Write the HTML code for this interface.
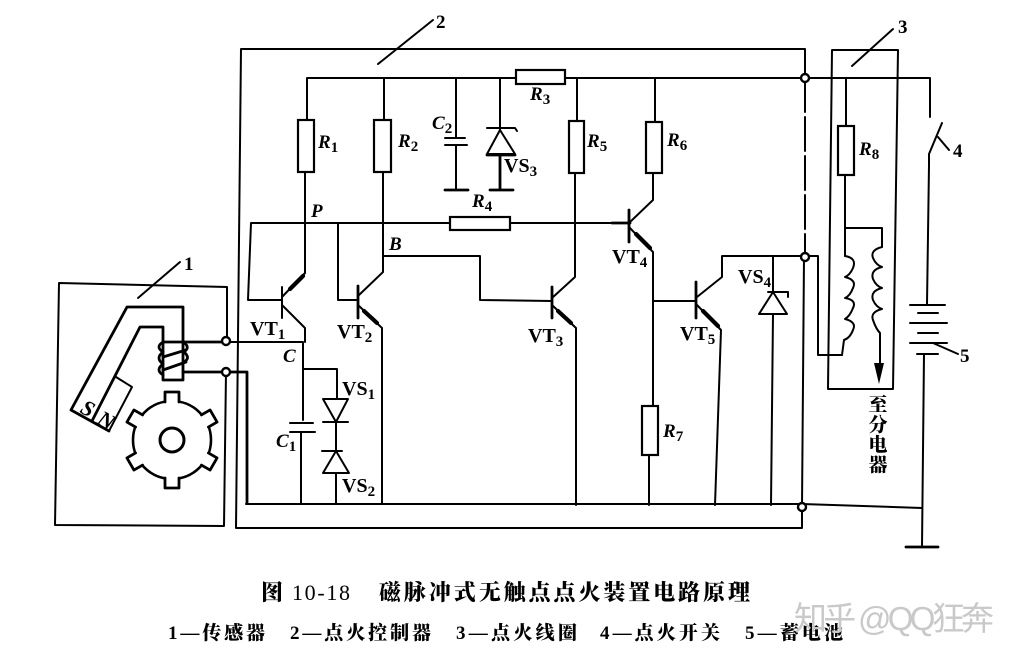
<!DOCTYPE html>
<html><head><meta charset="utf-8"><style>
html,body{margin:0;padding:0;background:#fff}
svg{display:block}
.w{fill:none;stroke:#000;stroke-width:2;stroke-linejoin:round;stroke-linecap:round}
.t{stroke-width:2.8}
.a{fill:none;stroke:#000;stroke-width:4.2;stroke-linecap:round}
.r{fill:#fff;stroke:#000;stroke-width:2.2}
.o{fill:#fff;stroke:#000;stroke-width:2.4}
text{fill:#000}
.l{font:bold 20px "Liberation Serif",serif}
.i{font:italic bold 19px "Liberation Serif",serif}
.n{font:bold 19px "Liberation Serif",serif}
.s{font-size:15px;font-style:normal}
.c{font-family:"Liberation Serif","Noto Serif CJK SC",serif;font-weight:900}
</style></head><body>
<svg width="1018" height="662" viewBox="0 0 1018 662" xmlns="http://www.w3.org/2000/svg">
<rect width="1018" height="662" fill="#fff"/>
<!-- box 1 -->
<path class="w" d="M227 341V287L59 283L55 525L224 526L226 372"/>
<path class="w" d="M180 262L138 298" stroke-width="1.6"/>
<!-- magnet -->
<path class="w t" d="M109 431L71 410L127 307H183V380H163V327H140L92 421"/>
<path class="w" d="M116 377L132 387L109 431"/>
<path class="w t" d="M163 342H226M163 357L186 350M163 370L186 362M183 372H247V503"/>
<path class="w t" d="M163 342Q155 347 163 352Q155 358 163 364Q155 370 163 375M183 342Q191 347 184 352Q191 358 184 362"/>
<text class="i" transform="translate(79 412) rotate(28)" style="font-size:22px">S</text>
<text class="i" transform="translate(96 423) rotate(28)" style="font-size:22px">N</text>
<!-- gear -->
<g transform="translate(172 440)">
<circle r="39" fill="#fff" stroke="#000" stroke-width="2.6"/>
<g><rect x="-6.5" y="-42" width="13" height="6" fill="#fff"/><path class="w t" d="M-7 -38V-48H7V-38"/></g>
<g transform="rotate(60)"><rect x="-6.5" y="-42" width="13" height="6" fill="#fff"/><path class="w t" d="M-7 -38V-48H7V-38"/></g>
<g transform="rotate(120)"><rect x="-6.5" y="-42" width="13" height="6" fill="#fff"/><path class="w t" d="M-7 -38V-48H7V-38"/></g>
<g transform="rotate(180)"><rect x="-6.5" y="-42" width="13" height="6" fill="#fff"/><path class="w t" d="M-7 -38V-48H7V-38"/></g>
<g transform="rotate(240)"><rect x="-6.5" y="-42" width="13" height="6" fill="#fff"/><path class="w t" d="M-7 -38V-48H7V-38"/></g>
<g transform="rotate(300)"><rect x="-6.5" y="-42" width="13" height="6" fill="#fff"/><path class="w t" d="M-7 -38V-48H7V-38"/></g>
<circle r="12" fill="#fff" stroke="#000" stroke-width="3"/>
</g>
<!-- box 2 -->
<path class="w" d="M805 78V49H241L236 528H802V507"/>
<path class="w" d="M805 78V257" stroke-dasharray="34 5"/>
<path class="w" d="M804 257L802 507"/>
<path class="w" d="M433 20L378 64" stroke-width="1.6"/>
<!-- buses -->
<path class="w" d="M305 273V172M307 120V78H516M565 78H930V117"/>
<path class="w" d="M246 504H802L922 508"/>
<!-- VT1 -->
<path class="w" d="M282 287V318M248 300H282M248 300L251 223H450M510 223H630"/>
<path class="w" d="M282 297L305 273M282 305L305 328V342M226 342H303V420"/>
<path class="a" d="M290 289L303 276"/>
<!-- VT2 -->
<path class="w t" d="M358 286V318"/>
<path class="w" d="M338 300H358M338 300V223M384 78V120M383 172V272L359 295M358 305L382 328V504"/>
<path class="a" d="M364 311L377 323"/>
<!-- R boxes -->
<rect class="r" x="298" y="120" width="16" height="52"/>
<rect class="r" x="374" y="120" width="17" height="52"/>
<rect class="r" x="516" y="70" width="49" height="14"/>
<rect class="r" x="450" y="217" width="60" height="13"/>
<rect class="r" x="569" y="121" width="15" height="52"/>
<rect class="r" x="646" y="122" width="16" height="51"/>
<rect class="r" x="642" y="406" width="16" height="49"/>
<rect class="r" x="838" y="126" width="16" height="49"/>
<!-- C, VS1, VS2 -->
<path class="w" d="M304 369H337V399M336 422V451M336 473V504"/>
<path class="w" d="M290 423H313M290 432H315M301 432V504"/>
<path class="w" d="M323 399H348L336 422ZM323 422H348"/>
<path class="w" d="M336 451L323 473H349ZM322 451H342"/>
<!-- B and VT3 -->
<path class="w" d="M383 256H480V300L552 301"/>
<path class="w t" d="M552 287V318"/>
<path class="w" d="M577 78V121M575 173V277L552 298M552 305L576 328V505"/>
<path class="a" d="M558 311L571 323"/>
<!-- C2 -->
<path class="w" d="M456 78V138M445 138H465M445 145H467M456 145V190"/>
<path class="w t" d="M445 190H468"/>
<!-- VS3 -->
<path class="w" d="M500 78V130"/>
<path class="w" d="M487 128H515L517 131M500 130L487 154H515Z"/>
<path class="w t" d="M487 155H515M500 155V190M490 190H513"/>
<!-- VT4 -->
<path class="w t" d="M629 210V242"/>
<path class="w" d="M655 78V122M653 173V200L630 222M629 227L653 252V406M649 455V505"/>
<path class="a" d="M636 234L650 248"/>
<path class="w t" d="M612 223H630"/>
<!-- VT5 -->
<path class="w t" d="M696 282V318"/>
<path class="w" d="M653 301H696M697 297L722 277V256H818V355H842"/>
<path class="w" d="M697 305L721 330L715 505"/>
<path class="a" d="M703 311L718 326"/>
<!-- VS4 -->
<path class="w" d="M773 257V292M773 292L759 314H787ZM768 292H788V297M773 314L771 505"/>
<!-- box 3 -->
<path class="w" d="M832 50L828 389H893L898 50H832Z"/>
<path class="w" d="M893 29L852 66" stroke-width="1.6"/>
<!-- coils -->
<path class="w" d="M846 78V126M845 175V256M845 228H882V247"/>
<path class="w" d="M845 256Q857 258 853 268Q850 275 845 277Q857 280 853 288Q850 296 845 298Q857 300 853 308Q850 316 845 319Q857 322 853 330Q850 338 844 340L842 355"/>
<path class="w" d="M882 247Q870 250 873 258Q876 265 882 267Q870 270 873 279Q876 286 882 288Q870 291 873 300Q876 307 882 309Q870 312 873 320Q876 329 880 333V365"/>
<path d="M874 363H884L879 384Z" fill="#000"/>
<text class="c" font-size="19" x="878" y="411" text-anchor="middle">至</text>
<text class="c" font-size="19" x="878" y="431" text-anchor="middle">分</text>
<text class="c" font-size="19" x="878" y="451" text-anchor="middle">电</text>
<text class="c" font-size="19" x="878" y="471" text-anchor="middle">器</text>
<!-- switch + battery -->
<path class="w" d="M942 123L929 154V165L927 304"/>
<path class="w" d="M938 137L949 150" stroke-width="1.8"/>
<path class="w" d="M910 305H945M918 313H938M910 323H947M918 333H938M910 343H947M917 354H938"/>
<path class="w" d="M924 354L922 547"/>
<path class="w" d="M933 343L958 354" stroke-width="1.5"/>
<path class="w t" d="M906 547H938"/>
<!-- terminals -->
<circle class="o" cx="226" cy="341" r="4"/>
<circle class="o" cx="226" cy="372" r="4"/>
<circle class="o" cx="805" cy="78" r="4"/>
<circle class="o" cx="805" cy="257" r="4"/>
<circle class="o" cx="802" cy="507" r="4"/>
<!-- labels -->
<text class="n" x="184" y="270">1</text>
<text class="n" x="436" y="28">2</text>
<text class="n" x="898" y="33">3</text>
<text class="n" x="953" y="157">4</text>
<text class="n" x="960" y="362">5</text>
<text class="l" x="250" y="335">VT<tspan class="s" dy="4">1</tspan></text>
<text class="l" x="337" y="338">VT<tspan class="s" dy="4">2</tspan></text>
<text class="l" x="528" y="342">VT<tspan class="s" dy="4">3</tspan></text>
<text class="l" x="612" y="263">VT<tspan class="s" dy="4">4</tspan></text>
<text class="l" x="680" y="340">VT<tspan class="s" dy="4">5</tspan></text>
<text class="l" x="738" y="283">VS<tspan class="s" dy="4">4</tspan></text>
<text class="l" x="342" y="395">VS<tspan class="s" dy="4">1</tspan></text>
<text class="l" x="342" y="492">VS<tspan class="s" dy="4">2</tspan></text>
<text class="l" x="504" y="172">VS<tspan class="s" dy="4">3</tspan></text>
<text class="i" x="283" y="362">C</text>
<text class="i" x="276" y="447">C<tspan class="s" dy="4">1</tspan></text>
<text class="i" x="432" y="129">C<tspan class="s" dy="4">2</tspan></text>
<text class="i" x="318" y="148">R<tspan class="s" dy="4">1</tspan></text>
<text class="i" x="398" y="147">R<tspan class="s" dy="4">2</tspan></text>
<text class="i" x="530" y="100">R<tspan class="s" dy="4">3</tspan></text>
<text class="i" x="472" y="207">R<tspan class="s" dy="4">4</tspan></text>
<text class="i" x="587" y="147">R<tspan class="s" dy="4">5</tspan></text>
<text class="i" x="667" y="146">R<tspan class="s" dy="4">6</tspan></text>
<text class="i" x="663" y="437">R<tspan class="s" dy="4">7</tspan></text>
<text class="i" x="859" y="155">R<tspan class="s" dy="4">8</tspan></text>
<text class="i" x="311" y="217">P</text>
<text class="i" x="389" y="250">B</text>
<!-- captions -->
<g class="c" font-size="22">
<text x="261" y="600">图</text>
<text x="292" y="600" textLength="58" lengthAdjust="spacing" style="font-weight:normal">10-18</text>
<text x="379" y="600" textLength="371" lengthAdjust="spacing">磁脉冲式无触点点火装置电路原理</text>
</g>
<g class="c" font-size="19">
<text x="168" y="639" textLength="97" lengthAdjust="spacing">1—传感器</text>
<text x="290" y="639" textLength="141" lengthAdjust="spacing">2—点火控制器</text>
<text x="456" y="639" textLength="121" lengthAdjust="spacing">3—点火线圈</text>
<text x="600" y="639" textLength="120" lengthAdjust="spacing">4—点火开关</text>
<text x="745" y="639" textLength="98" lengthAdjust="spacing">5—蓄电池</text>
</g>
<text x="794" y="630" font-size="33" textLength="200" lengthAdjust="spacing" style="fill:#c9c9c9;font-family:'Liberation Sans','Noto Sans CJK SC',sans-serif">知乎 @QQ狂奔</text>
</svg>
</body></html>
